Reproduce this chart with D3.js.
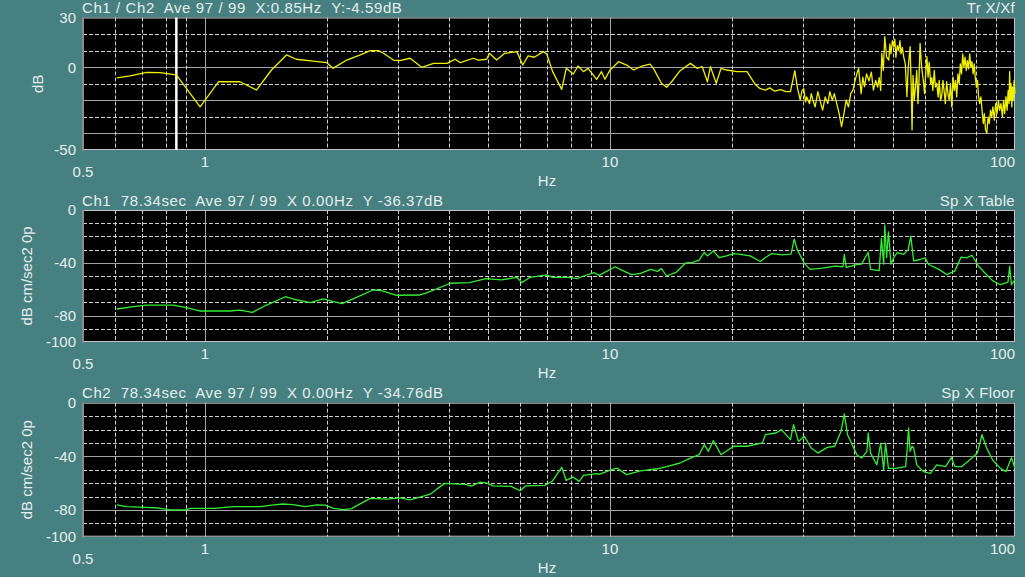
<!DOCTYPE html>
<meta charset="utf-8">
<script src="https://d3js.org/d3.v7.min.js"></script>
<style>
  body { margin: 0; background: #468080; }
  text { font-family: "Liberation Sans", Arial, sans-serif; fill: #e4eeee; }
</style>
<div id="chart"></div>
<script>
// ---- data (frequency in Hz, level in dB) ----
const trFreq = [0.606,0.653,0.718,0.775,0.85,0.973,1.08,1.22,1.34,1.46,1.59,1.68,1.85,2.0,2.07,2.24,2.42,2.56,2.68,2.76,2.92,3.03,3.21,3.43,3.67,3.96,4.15,4.27,4.6,4.73,4.96,5.04,5.25,5.5,5.89,6.09,6.28,6.5,6.85,6.98,7.22,7.6,7.8,8.12,8.34,8.6,8.83,9.27,9.53,9.72,10.0,10.5,11.0,11.44,12.0,12.56,12.8,13.4,13.8,14.2,14.9,15.8,16.4,16.9,17.4,17.7,18.3,18.8,19.4,20.6,21.8,22.9,23.5,24.2,24.8,25.5,26.4,27.2,27.9,
  28.6,29.0,29.5,29.8,30.1,30.4,30.6,31.1,31.4,31.7,32.1,32.6,33.0,33.5,34.0,34.5,34.9,35.4,35.8,36.3,36.8,37.3,37.7,38.3,38.8,39.3,39.8,40.3,40.7,41.1,41.7,42.1,42.5,43.0,43.6,44.2,44.7,45.3,45.8,46.2,46.6,46.9,47.3,47.7,48.2,48.8,49.1,49.4,49.8,50.2,50.5,50.8,51.2,51.6,52.0,52.3,52.7,53.1,53.6,54.1,54.5,55.1,55.4,55.7,56.0,56.4,56.8,57.2,57.6,57.9,58.3,58.8,59.4,59.8,60.2,60.6,61.0,61.4,61.9,62.3,62.7,63.2,63.6,64.1,64.6,65.0,65.5,65.9,66.4,66.8,67.3,67.8,68.3,68.8,69.3,69.8,70.3,70.8,71.3,71.8,72.3,72.8,73.3,73.8,74.3,74.8,75.3,75.8,76.3,76.8,77.3,77.8,78.3,78.8,79.3,79.8,80.3,80.8,81.3,81.8,82.4,82.9,83.5,84.0,84.6,85.2,85.8,86.4,87.0,87.6,88.2,88.9,89.6,90.3,91.0,91.6,92.3,93.1,93.7,94.3,95.0,95.6,96.2,96.7,97.0,97.4,97.8,98.2,98.6,99.0,99.5,100];
const trDb   = [-6.5,-5.3,-3.1,-3.3,-4.6,-23.9,-8.8,-8.8,-13.8,-1.7,7.4,4.8,3.7,2.7,-0.7,4.3,7.4,10,10,8.4,4.3,3.9,5.4,-0.1,2.3,2.3,4.8,2.7,5.4,4.3,4.8,8.4,4.3,8.4,9.4,1.3,6.8,6,9.4,8,-2.7,-13.4,-0.7,-4.1,0.7,-2.7,-0.7,-7.3,-2.7,-7.3,-1.8,3.3,1.3,-1.7,0.7,1.9,-0.7,-9.7,-12.1,-8.8,-2.1,2.3,-0.7,0.3,-8.8,0.3,-9.7,-0.7,-1.7,-2.7,-2.7,-10.8,-13,-13.8,-12.5,-14.5,-13.5,-14.8,-14.8,
  -2.1,-12,-19.8,-14,-13,-21,-18,-22,-16,-19.8,-24,-14.8,-20,-25.9,-18,-22,-14.8,-20,-16,-22,-28,-35.9,-30,-19.8,-24,-16,-13.8,-8,-4,-0.7,-16,-6,-11.8,-4,-8.3,-3,-13.8,-8,-12,-6.3,-14,8.4,-2,18.4,6,4.3,14,8,16,12.4,17,6,13,10,16,8,12,6.4,2,-17.8,0,12.4,-10,-37.9,-5,-20,-11.8,-2,-22,-10,14.4,0,-8.3,-16,-4,6.4,-6,3,-10,-6.3,-14,-2,-12,-9.7,-18,-8,-20,-17.8,-8,-14,-22,-8.8,-16,-20,-10,-24,-6,-14,-8,-18,-4,-10,2,-4,8,0,6,-2,4,-1,8,0,3.3,-4,2,-6.3,-12,-8,-17.8,-22,-18,-25.9,-34,-28,-38,-39.9,-30,-34,-26,-30,-24,-32,-22,-28,-20,-26,-22,-30,-20,-28,-17.8,-26,-14,-22,-2.7,-20,-10,-24,-12,-20,-8,-16];

const tableFreq = [0.606,0.666,0.718,0.835,0.9,0.97,1.15,1.22,1.31,1.42,1.58,1.68,1.82,1.96,2.08,2.18,2.36,2.6,2.73,2.97,3.38,3.5,4.04,4.5,4.94,5.4,5.89,6.06,6.35,6.98,7.22,7.9,8.3,8.6,9.15,9.4,9.6,10.3,10.6,11.3,11.9,12.6,13.1,13.4,13.8,14.6,15.4,16.0,16.6,17.1,17.4,18.0,18.6,19.4,20.2,21.0,22.2,23.5,24.2,25.1,26.6,28.0,28.5,29.0,30.2,31.2,33.5,35.9,37.6,37.9,38.3,40.7,41.8,43.4,44.0,46.2,46.8,47.4,47.7,48.2,48.7,49.4,50.2,51.2,53.1,54.5,55.3,56.2,58.3,60.0,61.2,64.9,67.8,71.0,73.6,76.0,78.3,81.3,85.0,88.0,92.0,96.1,97.0,98.0,100];
const tableDb   = [-75,-73.2,-72,-72,-74,-76.5,-76.5,-75.8,-77.5,-72,-65.7,-68,-70.2,-67.4,-69.5,-71,-66.4,-60.6,-61,-64.6,-64.4,-63.1,-55.5,-55,-52,-53,-51,-55,-51,-49.2,-51,-51,-52,-50,-47.5,-49.5,-48,-43,-45,-49,-48,-45,-46.5,-44.4,-50,-47,-40,-39.7,-37.9,-32,-34.8,-31,-36,-34.8,-33,-33.6,-34.8,-39,-36,-33,-34,-33.5,-22,-30,-40.4,-45,-44,-42.5,-43,-33.7,-43.4,-41.4,-41,-32,-45,-46,-21.5,-41,-11.4,-36,-16.5,-41,-36,-32.3,-33.6,-29.8,-19.8,-38.6,-37.5,-36.3,-41.3,-45,-48.9,-46.3,-35.7,-36.3,-34.3,-42.6,-48.9,-53.5,-56.6,-54.6,-42.6,-56.6,-52.8];

const floorFreq = [0.606,0.64,0.69,0.77,0.82,0.9,0.92,1.05,1.18,1.37,1.48,1.56,1.65,1.77,1.89,1.98,2.08,2.2,2.3,2.56,2.82,3.04,3.21,3.48,3.6,3.9,4.4,4.55,4.78,4.95,5.15,5.7,6.0,6.2,6.9,7.2,7.6,7.8,8.1,8.4,8.6,9.3,9.4,10.1,10.4,11.0,11.9,13.1,13.8,14.9,15.8,16.6,17.1,17.5,18.0,18.8,20.2,21.8,23.8,24.2,25.7,26.5,27.9,28.4,29.2,30.2,31.4,32.6,34.4,35.9,37.2,37.9,38.6,40.7,41.8,43.1,43.4,44.0,45.6,46.6,47.4,47.9,48.7,50.7,53.7,54.2,54.6,55.1,55.7,56.2,57.2,59.4,61.8,64.1,67.4,69.6,71.1,73.9,78.3,80.7,82.9,85.1,88.0,92.0,95.0,98.0,100];
const floorDb   = [-76.3,-77.6,-78,-78.6,-80,-80,-78.8,-78.8,-77.6,-77.6,-76.3,-75.6,-76,-77.6,-76.3,-76.5,-78.8,-79.8,-79,-71.4,-72,-71,-72.5,-69.6,-68.3,-60.2,-60.9,-62.2,-59.3,-59.8,-62,-62.4,-65.7,-62,-61.7,-58.7,-48.2,-58,-55.4,-58.7,-54.3,-53,-53.5,-50,-48.8,-53.7,-50.8,-49.3,-47.7,-45,-41.3,-38.8,-31.3,-36.3,-28.3,-38.8,-32.5,-32.5,-30,-23.9,-22.6,-20.1,-27.6,-16.4,-28.9,-25.1,-33.8,-37.6,-33.3,-32.5,-21.3,-8.4,-23.9,-38.8,-41.3,-36.3,-22.6,-37.6,-46.4,-30.1,-50.2,-30.1,-49,-49,-47.7,-33.8,-18.9,-36.3,-32.5,-33.8,-46.4,-51.4,-52.7,-46.4,-47.7,-41,-47.7,-47.7,-41.3,-37.6,-23.9,-33.8,-42.6,-49,-51.4,-41,-49];

// axis ticks
const freqGrid = [0.6,0.7,0.8,0.9,1,2,3,4,5,6,7,8,9,10,20,30,40,50,60,70,80,90];
const freqLabels = [1, 10, 100];
const cursorFreq = 0.85;

const headers = [
  "Ch1 / Ch2  Ave 97 / 99  X:0.85Hz  Y:-4.59dB",
  "Ch1  78.34sec  Ave 97 / 99  X 0.00Hz  Y -36.37dB",
  "Ch2  78.34sec  Ave 97 / 99  X 0.00Hz  Y -34.76dB"
];
const titles = ["Tr X/Xf", "Sp X Table", "Sp X Floor"];
const yLabels = ["dB", "dB cm/sec2 0p", "dB cm/sec2 0p"];

const W = 1025, H = 577;
const svg = d3.select("#chart").append("svg")
  .attr("width", W).attr("height", H);

svg.append("rect").attr("width", W).attr("height", H).attr("fill", "#468080");

const x = d3.scaleLog().domain([0.5, 100]).range([83, 1015]);

const panels = [
  { top: 17.5, bottom: 150, domain: [-50, 30], ticks: [30, 0, -50], solid: [0, -20, -40],
    fx: trFreq, fy: trDb, color: "#f0f000", ylx: 38, cursor: true },
  { top: 210, bottom: 342, domain: [-100, 0], ticks: [0, -40, -80, -100], solid: [-40, -80],
    fx: tableFreq, fy: tableDb, color: "#33ee33", ylx: 27 },
  { top: 402.7, bottom: 536.7, domain: [-100, 0], ticks: [0, -40, -80, -100], solid: [-40, -80],
    fx: floorFreq, fy: floorDb, color: "#33ee33", ylx: 27 }
];

panels.forEach((p, i) => {
  const y = d3.scaleLinear().domain(p.domain).range([p.bottom, p.top]);
  const g = svg.append("g");
  const [x0, x1] = x.range();

  // plot background
  g.append("rect")
    .attr("x", x0).attr("y", p.top)
    .attr("width", x1 - x0).attr("height", p.bottom - p.top)
    .attr("fill", "#000");

  // horizontal grid every 10 dB
  const hVals = d3.range(p.domain[0] + 10, p.domain[1], 10);
  g.selectAll(".hg").data(hVals).join("line")
    .attr("x1", x0).attr("x2", x1)
    .attr("y1", d => Math.round(y(d)) + 0.5).attr("y2", d => Math.round(y(d)) + 0.5)
    .attr("stroke", d => p.solid.includes(d) ? "#a4a4a4" : "#cfcfcf")
    .attr("stroke-dasharray", d => p.solid.includes(d) ? null : "4,2");

  // vertical grid
  g.selectAll(".vg").data(freqGrid).join("line")
    .attr("x1", d => Math.round(x(d)) + 0.5).attr("x2", d => Math.round(x(d)) + 0.5)
    .attr("y1", p.top).attr("y2", p.bottom)
    .attr("stroke", d => (d === 1 || d === 10) ? "#a4a4a4" : "#cfcfcf")
    .attr("stroke-dasharray", d => (d === 1 || d === 10) ? null : "4,2");

  // frame
  g.append("rect")
    .attr("x", x0 + 0.5).attr("y", p.top + 0.5)
    .attr("width", x1 - x0 - 1).attr("height", p.bottom - p.top - 1)
    .attr("fill", "none").attr("stroke", "#c4c4c4");
  g.append("line")
    .attr("x1", x0).attr("x2", x0).attr("y1", p.top).attr("y2", p.bottom + 1)
    .attr("stroke", "#8c8c8c").attr("stroke-width", 2);

  // cursor
  if (p.cursor) {
    g.append("line")
      .attr("x1", x(cursorFreq)).attr("x2", x(cursorFreq))
      .attr("y1", p.top).attr("y2", p.bottom)
      .attr("stroke", "#fff").attr("stroke-width", 2.5);
  }

  // trace
  const pts = p.fx.map((f, k) => [f, p.fy[k]]);
  g.append("path")
    .datum(pts)
    .attr("fill", "none")
    .attr("stroke", p.color)
    .attr("stroke-width", 1.3)
    .attr("stroke-linejoin", "round")
    .attr("d", d3.line().x(d => x(d[0])).y(d => y(d[1])));

  // y tick labels
  g.selectAll(".yt").data(p.ticks).join("text")
    .attr("x", 76).attr("y", d => y(d))
    .attr("dy", "0.36em")
    .attr("text-anchor", "end")
    .attr("font-size", 15)
    .text(d => d);

  // x tick labels
  g.selectAll(".xt").data(freqLabels).join("text")
    .attr("x", d => d === 100 ? x1 : x(d))
    .attr("y", p.bottom + 17)
    .attr("text-anchor", d => d === 100 ? "end" : "middle")
    .attr("font-size", 15)
    .text(d => d);
  g.append("text")
    .attr("x", x0).attr("y", p.bottom + 27)
    .attr("text-anchor", "middle").attr("font-size", 15)
    .text("0.5");
  g.append("text")
    .attr("x", 547).attr("y", p.bottom + 36)
    .attr("text-anchor", "middle").attr("font-size", 15)
    .text("Hz");

  // header and title
  g.append("text")
    .attr("x", 82).attr("y", p.top - 4.5)
    .attr("font-size", 15)
    .attr("letter-spacing", 0.6)
    .style("white-space", "pre")
    .text(headers[i]);
  g.append("text")
    .attr("x", x1).attr("y", p.top - 4.5)
    .attr("text-anchor", "end")
    .attr("font-size", 15)
    .attr("letter-spacing", 0.3)
    .text(titles[i]);

  // y axis label
  g.append("text")
    .attr("transform", `translate(${p.ylx},${(p.top + p.bottom) / 2}) rotate(-90)`)
    .attr("dy", "0.36em")
    .attr("text-anchor", "middle")
    .attr("font-size", 15)
    .text(yLabels[i]);
});
</script>
